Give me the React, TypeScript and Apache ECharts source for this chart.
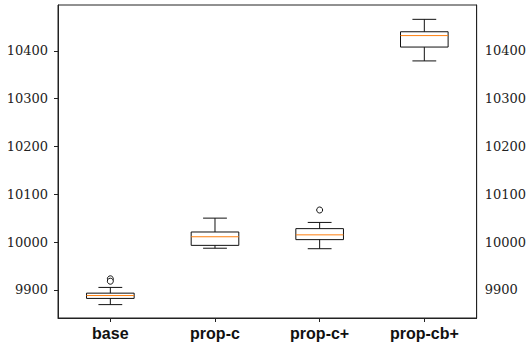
import React, { useEffect, useRef } from "react";
import * as echarts from "echarts";

const categories = ["base", "prop-c", "prop-c+", "prop-cb+"];
const whiskerLow = [9869, 9987, 9986, 10379];
const q1 = [9882, 9993, 10005, 10408];
const median = [9888, 10011, 10015, 10432];
const q3 = [9893, 10021, 10028, 10440];
const whiskerHigh = [9905, 10050, 10041, 10466];
const outlierCat = [0, 0, 2];
const outlierVal = [9923, 9918, 10067];
const yTicks = [9900, 10000, 10100, 10200, 10300, 10400];
const yMin = 9841;
const yMax = 10496;

export default function App() {
  const ref = useRef<HTMLDivElement>(null);
  useEffect(() => {
    document.body.style.margin = "0";
    if (!ref.current) return;
    const chart = echarts.init(ref.current, undefined, { renderer: "svg" });
    const boxData = categories.map((_, i) => [
      i,
      whiskerLow[i],
      q1[i],
      median[i],
      q3[i],
      whiskerHigh[i],
    ]);
    const outlierData = outlierCat.map((c, i) => [c, outlierVal[i]]);
    const tickLabelStyle = {
      fontFamily: "DejaVu Serif",
      fontSize: 13,
      color: "#222",
      formatter: (v: number) => String(v),
    };
    chart.setOption({
      animation: false,
      backgroundColor: "#fff",
      grid: {
        left: 58,
        right: 49,
        top: 5,
        bottom: 30,
        show: true,
        borderColor: "#222",
        borderWidth: 1,
      },
      xAxis: {
        type: "category",
        data: categories,
        boundaryGap: true,
        axisLine: { show: true, lineStyle: { color: "#222", width: 1 } },
        axisTick: { show: true, alignWithLabel: true, length: 4, lineStyle: { color: "#222" } },
        axisLabel: {
          fontFamily: "Liberation Sans",
          fontWeight: "bold",
          fontSize: 16,
          color: "#111",
          margin: 7,
        },
        splitLine: { show: false },
      },
      yAxis: [
        {
          type: "value",
          min: yMin,
          max: yMax,
          position: "left",
          axisLine: { show: true, lineStyle: { color: "#222", width: 1 } },
          axisTick: {
            show: true,
            length: 4,
            lineStyle: { color: "#222" },
            customValues: yTicks,
          },
          axisLabel: { ...tickLabelStyle, margin: 10, customValues: yTicks },
          splitLine: { show: false },
        },
        {
          type: "value",
          min: yMin,
          max: yMax,
          position: "right",
          axisLine: { show: true, lineStyle: { color: "#222", width: 1 } },
          axisTick: { show: false, customValues: yTicks },
          axisLabel: { ...tickLabelStyle, margin: 8, customValues: yTicks },
          splitLine: { show: false },
        },
      ],
      series: [
        {
          type: "custom",
          xAxisIndex: 0,
          yAxisIndex: 0,
          data: boxData,
          encode: { x: 0, y: [1, 2, 3, 4, 5] },
          z: 2,
          renderItem: (params: any, api: any) => {
            const idx = api.value(0);
            const band = api.size([1, 0])[0];
            const bw = band * 0.455;
            const cw = bw / 2;
            const pLow = api.coord([idx, api.value(1)]);
            const pQ1 = api.coord([idx, api.value(2)]);
            const pMed = api.coord([idx, api.value(3)]);
            const pQ3 = api.coord([idx, api.value(4)]);
            const pHigh = api.coord([idx, api.value(5)]);
            const cx = pMed[0];
            const line = { stroke: "#111", lineWidth: 1 };
            return {
              type: "group",
              children: [
                {
                  type: "rect",
                  shape: { x: cx - bw / 2, y: pQ3[1], width: bw, height: pQ1[1] - pQ3[1] },
                  style: { fill: "#fff", stroke: "#111", lineWidth: 1 },
                },
                { type: "line", shape: { x1: cx, y1: pQ3[1], x2: cx, y2: pHigh[1] }, style: line },
                { type: "line", shape: { x1: cx, y1: pQ1[1], x2: cx, y2: pLow[1] }, style: line },
                { type: "line", shape: { x1: cx - cw / 2, y1: pHigh[1], x2: cx + cw / 2, y2: pHigh[1] }, style: line },
                { type: "line", shape: { x1: cx - cw / 2, y1: pLow[1], x2: cx + cw / 2, y2: pLow[1] }, style: line },
                {
                  type: "line",
                  shape: { x1: cx - bw / 2, y1: pMed[1], x2: cx + bw / 2, y2: pMed[1] },
                  style: { stroke: "#ff7f0e", lineWidth: 1 },
                },
              ],
            };
          },
        },
        {
          type: "scatter",
          xAxisIndex: 0,
          yAxisIndex: 0,
          data: outlierData,
          z: 3,
          symbol: "circle",
          symbolSize: 6,
          itemStyle: { color: "#fff", borderColor: "#111", borderWidth: 1, opacity: 1 },
        },
      ],
    });
    return () => chart.dispose();
  }, []);
  return <div ref={ref} style={{ width: 529, height: 348 }} />;
}
